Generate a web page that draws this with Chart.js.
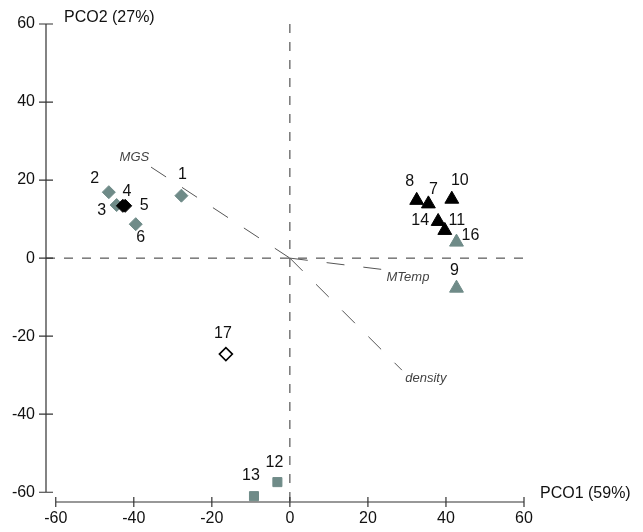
<!DOCTYPE html>
<html>
<head>
<meta charset="utf-8">
<title>PCO ordination</title>
<script src="https://cdn.jsdelivr.net/npm/chart.js@4.4.1/dist/chart.umd.min.js"></script>
<style>
    html, body { margin: 0; padding: 0; background: #fff; }
    #wrap { width: 643px; height: 532px; position: relative; }
</style>
</head>
<body>
<div id="wrap"><canvas id="pcoChart"></canvas></div>
<script>
// Sample scores on the first two PCO axes (no sample 15)
const sites = ['1', '2', '3', '4', '5', '6', '7', '8', '9', '10', '11', '12', '13', '14', '16', '17'];
const pco1 = [-27.8, -46.4, -44.4, -42.8, -42.2, -39.5, 35.5, 32.5, 42.7, 41.5, 39.7, -3.2, -9.2, 38.0, 42.7, -16.4];
const pco2 = [16.0, 16.9, 13.6, 13.4, 13.4, 8.7, 13.9, 14.8, -7.7, 15.1, 7.1, -57.4, -61.0, 9.4, 4.1, -24.6];
const groups = ['gd', 'gd', 'gd', 'bd', 'bd', 'gd', 'bt', 'bt', 'gt', 'bt', 'bt', 'gs', 'gs', 'bt', 'gt', 'od'];

// Environmental vectors (end points)
const vectorNames = ['MGS', 'MTemp', 'density'];
const vectorX = [-36.0, 23.6, 28.7];
const vectorY = [23.6, -2.9, -28.7];

// Axis ticks and titles
const tickValues = [-60, -40, -20, 0, 20, 40, 60];
const tickLabels = ['-60', '-40', '-20', '0', '20', '40', '60'];
const xTitle = 'PCO1 (59%)';
const yTitle = 'PCO2 (27%)';

const grey = '#6f8b88';
const font = "'Liberation Sans', Arial, sans-serif";

// marker styles per group
const groupStyle = {
    gd: { pointStyle: 'rectRot', radius: 6.5, bg: grey, border: grey, bw: 1 },
    bd: { pointStyle: 'rectRot', radius: 6.5, bg: '#000', border: '#000', bw: 1 },
    bt: { pointStyle: 'triangle', radius: 8, bg: '#000', border: '#000', bw: 1 },
    gt: { pointStyle: 'triangle', radius: 8, bg: grey, border: grey, bw: 1 },
    gs: { pointStyle: 'rect', radius: 6.4, bg: grey, border: grey, bw: 1 },
    od: { pointStyle: 'rectRot', radius: 6.5, bg: '#fff', border: '#000', bw: 1.6 }
};

// pixel offsets of the sample labels from their markers
const labelOffset = {
    '1': [1, -21], '2': [-14, -14], '3': [-15, 6], '4': [4, -14], '5': [19, 0], '6': [5, 13],
    '7': [5, -14], '8': [-7, -19], '9': [-2, -18], '10': [8, -19], '11': [12, -10],
    '12': [-3, -20], '13': [-3, -21], '14': [-18, -1], '16': [14, -7], '17': [-3, -21]
};
const vectorLabelOffset = { MGS: [-15, -9], MTemp: [26, 8], density: [24, 8] };

function pointsFor(g) {
    const out = [];
    for (let i = 0; i < sites.length; i++) {
        if (groups[i] === g) out.push({ x: pco1[i], y: pco2[i] });
    }
    return out;
}

const datasets = [];

// dashed zero lines
datasets.push({
    data: [{ x: -62.5, y: 0 }, { x: 60, y: 0 }],
    showLine: true, pointRadius: 0, borderColor: '#333', borderWidth: 1, borderDash: [9, 9], order: 3
});
datasets.push({
    data: [{ x: 0, y: 60 }, { x: 0, y: -62.5 }],
    showLine: true, pointRadius: 0, borderColor: '#333', borderWidth: 1, borderDash: [9, 9], order: 3
});

// vectors from the origin
for (let i = 0; i < vectorNames.length; i++) {
    datasets.push({
        data: [{ x: 0, y: 0 }, { x: vectorX[i], y: vectorY[i] }],
        showLine: true, pointRadius: 0, borderColor: '#555', borderWidth: 1, borderDash: [18, 19], order: 2
    });
}

// markers (black groups drawn last so they sit on top)
['gd', 'gt', 'gs', 'od', 'bt', 'bd'].forEach(function(g, k) {
    const s = groupStyle[g];
    datasets.push({
        data: pointsFor(g),
        pointStyle: s.pointStyle,
        pointRadius: s.radius,
        pointBackgroundColor: s.bg,
        pointBorderColor: s.border,
        pointBorderWidth: s.bw,
        showLine: false,
        order: 1 - k * 0.01 + 0
    });
});
// lower order is drawn on top in Chart.js, so flip: give black groups the smallest order
datasets.forEach(function(d, i) {
    if (d.order < 2) d.order = 1 - (i / 100);
});

const annotatePlugin = {
    id: 'annotate',
    afterDatasetsDraw(chart) {
        const ctx = chart.ctx;
        const x = chart.scales.x;
        const y = chart.scales.y;
        const area = chart.chartArea;
        ctx.save();

        // offset axis lines with crossing ticks
        ctx.strokeStyle = '#333';
        ctx.lineWidth = 1.2;
        ctx.beginPath();
        const yl = area.left;
        ctx.moveTo(yl, y.getPixelForValue(60));
        ctx.lineTo(yl, y.getPixelForValue(-60));
        tickValues.forEach(function(v) {
            const py = y.getPixelForValue(v);
            ctx.moveTo(yl - 7, py);
            ctx.lineTo(yl + 7, py);
        });
        const xb = area.bottom;
        ctx.moveTo(x.getPixelForValue(-60), xb);
        ctx.lineTo(x.getPixelForValue(60), xb);
        tickValues.forEach(function(v) {
            const px = x.getPixelForValue(v);
            ctx.moveTo(px, xb - 5);
            ctx.lineTo(px, xb + 5);
        });
        ctx.stroke();

        // axis titles
        ctx.fillStyle = '#111';
        ctx.font = '16px ' + font;
        ctx.textAlign = 'left';
        ctx.textBaseline = 'middle';
        ctx.fillText(yTitle, yl + 18, y.getPixelForValue(60) - 6);
        ctx.fillText(xTitle, x.getPixelForValue(60) + 16, y.getPixelForValue(-60) + 1);

        // sample labels
        ctx.textAlign = 'center';
        for (let i = 0; i < sites.length; i++) {
            const off = labelOffset[sites[i]] || [0, -16];
            ctx.fillText(sites[i], x.getPixelForValue(pco1[i]) + off[0], y.getPixelForValue(pco2[i]) + off[1]);
        }

        // vector labels
        ctx.font = 'italic 13px ' + font;
        ctx.fillStyle = '#444';
        for (let i = 0; i < vectorNames.length; i++) {
            const off = vectorLabelOffset[vectorNames[i]];
            ctx.fillText(vectorNames[i], x.getPixelForValue(vectorX[i]) + off[0], y.getPixelForValue(vectorY[i]) + off[1]);
        }
        ctx.restore();
    }
};

function fixedTicks(scale) {
    scale.ticks = tickValues.map(function(v) { return { value: v }; });
}

new Chart(document.getElementById('pcoChart'), {
    type: 'scatter',
    data: { datasets: datasets },
    options: {
        responsive: true,
        maintainAspectRatio: false,
        animation: false,
        layout: { padding: { top: 24, right: 119, left: 0, bottom: 0 } },
        plugins: { legend: { display: false }, tooltip: { enabled: false } },
        scales: {
            x: {
                type: 'linear',
                min: -62.5,
                max: 60,
                afterBuildTicks: fixedTicks,
                afterFit: function(s) { s.height = 30; },
                grid: { display: false, drawTicks: false },
                border: { display: false },
                ticks: {
                    padding: 7,
                    color: '#111',
                    font: { family: font, size: 16 },
                    callback: function(v) { return tickLabels[tickValues.indexOf(v)]; }
                }
            },
            y: {
                type: 'linear',
                min: -62.5,
                max: 60,
                afterBuildTicks: fixedTicks,
                afterFit: function(s) { s.width = 46; },
                grid: { display: false, drawTicks: false },
                border: { display: false },
                ticks: {
                    padding: 11,
                    color: '#111',
                    font: { family: font, size: 16 },
                    callback: function(v) { return tickLabels[tickValues.indexOf(v)]; }
                }
            }
        }
    },
    plugins: [annotatePlugin]
});
</script>
</body>
</html>
